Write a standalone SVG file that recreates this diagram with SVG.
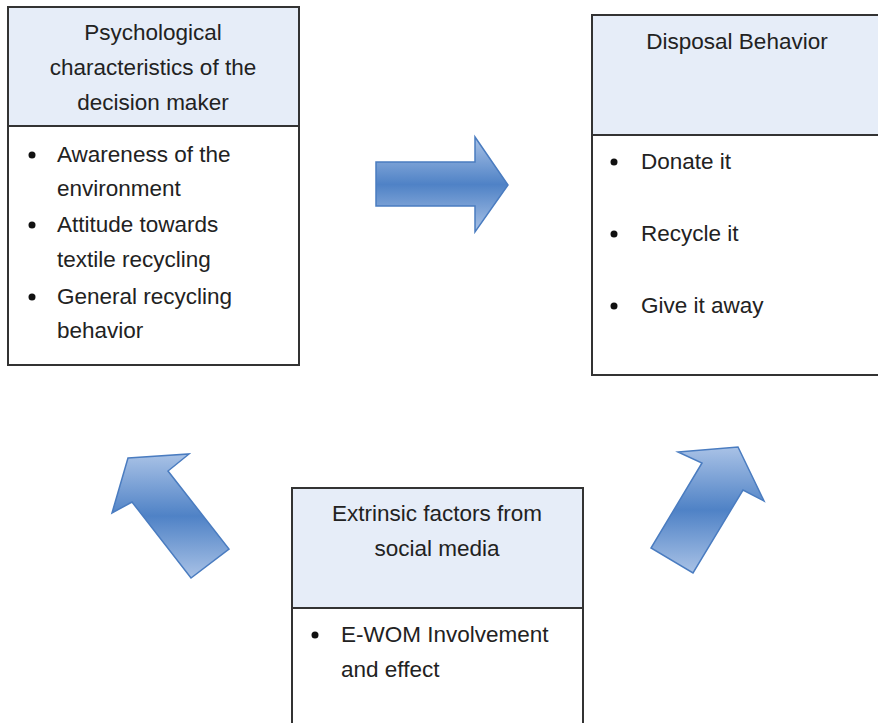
<svg xmlns="http://www.w3.org/2000/svg" width="878" height="723" viewBox="0 0 878 723">
<style>
.box{fill:#ffffff;stroke:#333333;stroke-width:2}
.hdr{fill:#e6edf8}
.div{stroke:#333333;stroke-width:2}
text{font-family:"Liberation Sans",Arial,sans-serif;font-size:22.5px;fill:#222222}
.c{text-anchor:middle}
.dot{fill:#111111}
.arr{fill:url(#g);stroke:#4a7cc0;stroke-width:1.5;stroke-linejoin:miter}
</style>
<defs>
<linearGradient id="g" x1="0" y1="0" x2="0" y2="1">
<stop offset="0" stop-color="#a9c2e6"/>
<stop offset="0.5" stop-color="#4f82c6"/>
<stop offset="1" stop-color="#a9c2e6"/>
</linearGradient>
</defs>
<rect width="878" height="723" fill="#ffffff"/>
<g id="psych">
<rect class="box" x="8" y="7" width="291" height="358"/>
<rect class="hdr" x="9" y="8" width="289" height="117"/>
<line class="div" x1="8" y1="126" x2="299" y2="126"/>
<text class="c" x="153" y="40">Psychological</text>
<text class="c" x="153" y="75">characteristics of the</text>
<text class="c" x="153" y="110">decision maker</text>
<circle class="dot" cx="32" cy="155" r="3.5"/>
<text x="57" y="162">Awareness of the</text>
<text x="57" y="196">environment</text>
<circle class="dot" cx="32" cy="225" r="3.5"/>
<text x="57" y="232">Attitude towards</text>
<text x="57" y="267">textile recycling</text>
<circle class="dot" cx="32" cy="297" r="3.5"/>
<text x="57" y="304">General recycling</text>
<text x="57" y="338">behavior</text>
</g>
<g id="disposal">
<rect class="box" x="592" y="15" width="300" height="360"/>
<rect class="hdr" x="593" y="16" width="298" height="118"/>
<line class="div" x1="592" y1="135" x2="892" y2="135"/>
<text class="c" x="737" y="49">Disposal Behavior</text>
<circle class="dot" cx="614" cy="162" r="3.5"/>
<text x="641" y="169">Donate it</text>
<circle class="dot" cx="614" cy="234" r="3.5"/>
<text x="641" y="241">Recycle it</text>
<circle class="dot" cx="614" cy="306" r="3.5"/>
<text x="641" y="313">Give it away</text>
</g>
<g id="extrinsic">
<rect class="box" x="292" y="488" width="291" height="250"/>
<rect class="hdr" x="293" y="489" width="289" height="118"/>
<line class="div" x1="292" y1="608" x2="583" y2="608"/>
<text class="c" x="437" y="521">Extrinsic factors from</text>
<text class="c" x="437" y="556">social media</text>
<circle class="dot" cx="315" cy="635" r="3.5"/>
<text x="341" y="642">E-WOM Involvement</text>
<text x="341" y="677">and effect</text>
</g>
<g id="connectors">
<polygon class="arr" points="376,162 475,162 475,137 508,185 475,232 475,206 376,206"/>
<polygon class="arr" points="128,458 189,454 168,471 229,549 191,578 132,502 112,513"/>
<polygon class="arr" points="738,447 764,501 743,490 693,573 651,548 702,463 678,452"/>
</g>
</svg>
